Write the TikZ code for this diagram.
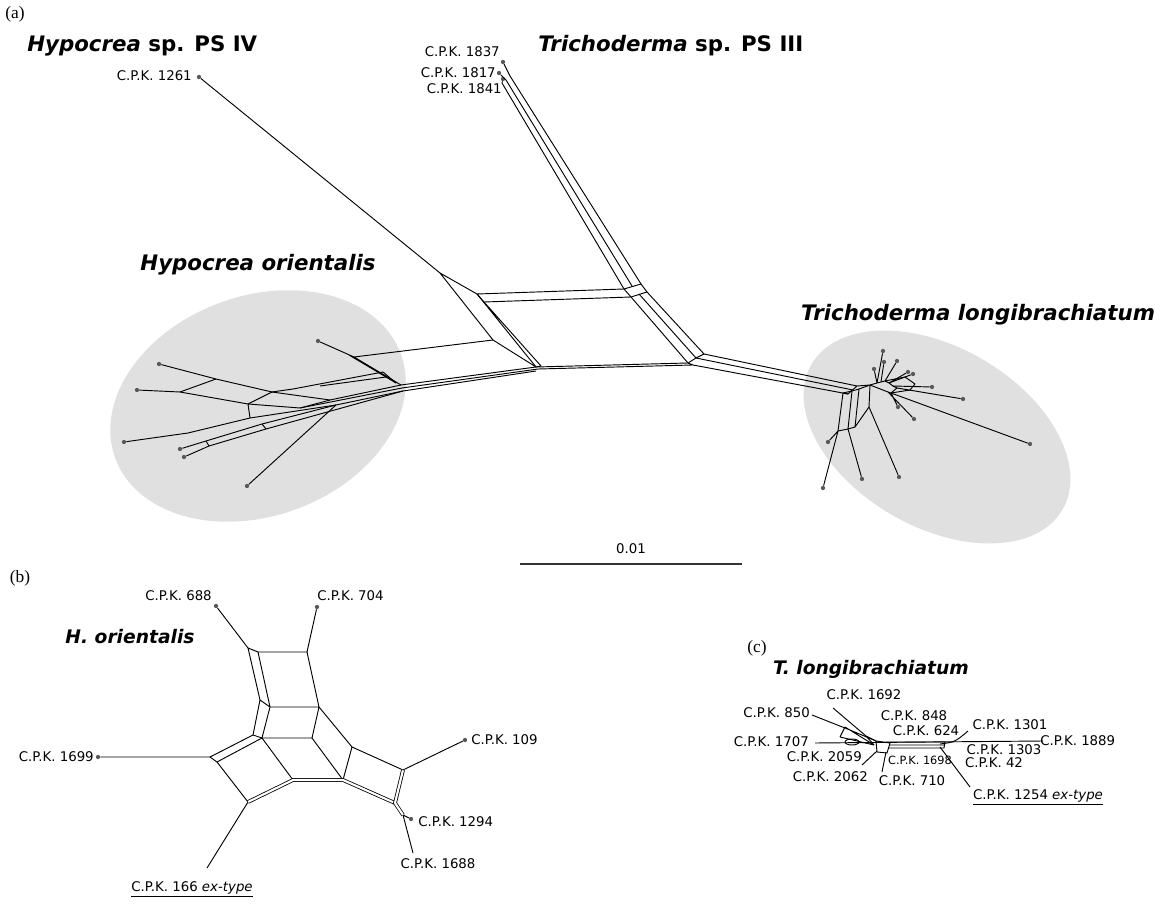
\documentclass[tikz,border=0pt]{standalone}
\usepackage{fontspec}
\setmainfont{Liberation Serif}
\newfontfamily\lab{DejaVu Sans}
\definecolor{ellgray}{RGB}{224,224,224}
\begin{document}
\begin{tikzpicture}[x=0.75pt,y=-0.75pt,
  net/.style={line width=0.7pt, line join=round},
  dbl/.style={double, double distance=1.6pt, line width=0.6pt},
  lbl/.style={font=\lab\fontsize{10}{12}\selectfont, inner sep=0pt},
  slbl/.style={font=\lab\fontsize{8.5}{10}\selectfont, inner sep=0pt},
  ttl/.style={font=\lab\bfseries\fontsize{16}{19}\selectfont, inner sep=0pt},
  sttl/.style={font=\lab\bfseries\fontsize{14}{17}\selectfont, inner sep=0pt},
  plab/.style={font=\fontsize{13}{15}\selectfont, inner sep=0pt},
  tipdot/.style={circle, fill=black!65, inner sep=0pt, minimum size=3.2pt}]
\useasboundingbox (0,0) rectangle (1167,905);
\fill[white] (0,0) rectangle (1167,905);

% ---------------- ellipses ----------------
\fill[ellgray, rotate around={20:(258,406)}] (258,406) ellipse [x radius=152, y radius=110];
\fill[ellgray, rotate around={-30:(937,437)}] (937,437) ellipse [x radius=145, y radius=90];

% ---------------- panel labels ----------------
\node[plab] (pa) at (15,14) {(a)};
\node[plab] (pb) at (20,578) {(b)};
\node[plab] (pc) at (757,648) {(c)};

% ---------------- titles ----------------
\node[ttl, anchor=west] (tiv) at (27,46) {\textit{Hypocrea} sp. PS IV};
\node[ttl, anchor=west] (tiii) at (538,46) {\textit{Trichoderma} sp. PS III};
\node[ttl] (tho) at (258,265) {\textit{Hypocrea orientalis}};
\node[ttl] (ttl2) at (978,315) {\textit{Trichoderma longibrachiatum}};
\node[sttl] (tbh) at (130,637) {\textit{H. orientalis}};
\node[sttl] (tct) at (871,669) {\textit{T. longibrachiatum}};

% ================= (a) central =================
\node[tipdot] (t1261) at (199,77) {};
\node[lbl, anchor=east] (l1261) at (192,76) {C.P.K. 1261};
\coordinate (P1) at (440,273);
\coordinate (P3) at (493,340);
\coordinate (A1) at (477,294);
\coordinate (A2) at (484,302);
\coordinate (A3) at (624,289);
\coordinate (A4) at (631,297);
\coordinate (A5) at (641,284);
\coordinate (A6) at (647,292);
\coordinate (A7) at (639,294);
\coordinate (A8) at (632,286);
\coordinate (D1) at (536,367);
\coordinate (D2) at (541,366);
\coordinate (D3) at (538,369);
\coordinate (D4) at (536,371);
\coordinate (E1) at (688,363);
\coordinate (E2) at (696,358);
\coordinate (E3) at (704,354);
\coordinate (E4) at (693,365);

\draw[net] (t1261) -- (P1);
\draw[net] (P1) -- (A1) (P1) -- (P3) -- (D1);
\draw[net] (A1) -- (A3) (A2) -- (A4) (A1) -- (A2) (A3) -- (A4) (A3) -- (A5) (A4) -- (A6) (A5) -- (A6);
\draw[net] (A1) -- (D1) (A2) -- (D2) (D1) -- (D2);
\draw[net] (D1) -- (E1) (D3) -- (E4) (E1) -- (E4);
\draw[net] (A4) -- (E1) (A6) -- (E3) (A7) -- (E2) (E1) -- (E2) -- (E3);

% PS III
\node[tipdot] (t1837) at (503,62) {};
\node[tipdot] (t1817) at (499,73) {};
\node[tipdot] (t1841) at (503,79) {};
\node[lbl, anchor=east] (l1837) at (500,52) {C.P.K. 1837};
\node[lbl, anchor=east] (l1817) at (496,73) {C.P.K. 1817};
\node[lbl, anchor=east] (l1841) at (502,89) {C.P.K. 1841};
\coordinate (S1) at (510,76);
\coordinate (S2) at (506,80);
\coordinate (S3) at (502,83);
\draw[net] (t1837) -- (S1) -- (A5);
\draw[net] (t1817) -- (S2) -- (A8);
\draw[net] (t1841) -- (S3) -- (A3);

% right band
\coordinate (R1) at (857,386);
\coordinate (R3) at (848,394);
\coordinate (R5) at (853,390);
\draw[net] (E3) -- (R1) (E4) -- (R3) (E2) -- (R5) (R1) -- (R3);

% ================= H. orientalis cluster =================
\node[tipdot] (o1) at (318,341) {};
\node[tipdot] (o2) at (159,364) {};
\node[tipdot] (o3) at (137,390) {};
\node[tipdot] (o4) at (124,442) {};
\node[tipdot] (o5) at (180,449) {};
\node[tipdot] (o6) at (184,457) {};
\node[tipdot] (o7) at (247,486) {};
\coordinate (j1) at (354,357);
\coordinate (j1b) at (349,355);
\coordinate (j2) at (401,385);
\coordinate (j2b) at (402,388);
\coordinate (j2c) at (403,391);
\coordinate (j2d) at (396,383);
\coordinate (j3) at (216,379);
\coordinate (j4) at (272,392);
\coordinate (j5) at (330,400);
\coordinate (j6) at (180,392);
\coordinate (j7) at (248,404);
\coordinate (j8) at (300,408);
\coordinate (j9) at (188,433);
\coordinate (j10) at (250,418);
\coordinate (j11) at (206,441);
\coordinate (j11b) at (209,446);
\coordinate (j12) at (262,424);
\coordinate (j12b) at (266,429);
\coordinate (j13) at (336,405);
\coordinate (j14) at (293,389);
\coordinate (j15) at (383,372);
\coordinate (j16) at (320,386);
\coordinate (j17) at (386,377);

\draw[net] (D1) -- (j2) (D3) -- (j2b) (D4) -- (j2c);
\draw[net] (o1) -- (j1) -- (j2) (j1b) -- (j2d) (j1) -- (P3);
\draw[net] (o2) -- (j3) -- (j4) -- (j5) -- (j2);
\draw[net] (o3) -- (j6) -- (j7) -- (j8) -- (j2b);
\draw[net] (j6) -- (j3) (j7) -- (j4) (j8) -- (j5) (j10) -- (j7);
\draw[net] (o4) -- (j9) -- (j10) -- (j13);
\draw[net] (o5) -- (j11) -- (j12) -- (j13);
\draw[net] (o6) -- (j11b) -- (j12b) -- (j2c);
\draw[net] (j11) -- (j11b) (j12) -- (j12b);
\draw[net] (o7) -- (j13) -- (j2c);
\draw[net] (j4) -- (j14) -- (j15) -- (j2d) (j16) -- (j17);

% ================= T. longibrachiatum cluster =================
\node[tipdot] (T1) at (883,351) {};
\node[tipdot] (T2) at (884,362) {};
\node[tipdot] (T3) at (897,361) {};
\node[tipdot] (T4) at (908,372) {};
\node[tipdot] (T5) at (913,374) {};
\node[tipdot] (T6) at (932,387) {};
\node[tipdot] (T7) at (963,399) {};
\node[tipdot] (T8) at (914,419) {};
\node[tipdot] (T9) at (898,407) {};
\node[tipdot] (T10) at (1030,444) {};
\node[tipdot] (T11) at (899,477) {};
\node[tipdot] (T12) at (862,479) {};
\node[tipdot] (T13) at (823,488) {};
\node[tipdot] (T14) at (828,442) {};
\node[tipdot] (T15) at (874,369) {};
\coordinate (u0) at (870,385);
\coordinate (u1) at (843,393);
\coordinate (u2) at (852,391);
\coordinate (u3) at (859,389);
\coordinate (v1) at (838,431);
\coordinate (v2) at (848,429);
\coordinate (v3) at (855,427);
\coordinate (v4) at (869,407);
\coordinate (w1) at (877,383);
\coordinate (w2) at (881,382);
\coordinate (w3) at (885,381);
\coordinate (w4) at (889,383);
\coordinate (w5) at (893,386);
\coordinate (w6) at (897,388);
\coordinate (w7) at (888,392);
\coordinate (w8) at (891,393);
\coordinate (x1) at (905,377);
\coordinate (x2) at (915,384);
\coordinate (x3) at (910,390);
\draw[net] (R1) -- (u0) (R3) -- (u1) -- (u2) -- (u3) -- (u0);
\draw[net] (u1) -- (v1) (u2) -- (v2) (u3) -- (v3) (u0) -- (v4) (v1) -- (v2) -- (v3) -- (v4);
\draw[net] (v1) -- (T13) (v1) -- (T14) (v2) -- (T12) (v4) -- (T11);
\draw[net] (u0) -- (w1) -- (w2) -- (w3) -- (w4) -- (w5) -- (w6);
\draw[net] (w1) -- (T1) (w1) -- (T15) (w2) -- (T2) (w3) -- (T3) (w4) -- (T4) (w4) -- (T5)
  (w5) -- (T6) (w6) -- (T7) (w7) -- (T8) (w8) -- (T9) (w8) -- (T10);
\draw[net] (u0) -- (w7) -- (w8) -- (w6);
\draw[net] (w3) -- (x1) -- (x2) -- (x3) -- (w8);

% scale bar
\coordinate (sb1) at (520,564);
\coordinate (sb2) at (742,564);
\draw[line width=1.1pt, black!80] (sb1) -- (sb2);
\node[lbl] (sbl) at (631,549) {0.01};

% ================= (b) =================
\coordinate (B1) at (248,648);
\coordinate (B2) at (258,652);
\coordinate (B3) at (307,652);
\coordinate (B4) at (260,700);
\coordinate (B5) at (270,707);
\coordinate (B6) at (319,707);
\coordinate (B7) at (253,735);
\coordinate (B8) at (262,738);
\coordinate (B9) at (312,738);
\coordinate (B10) at (352,747);
\coordinate (B11) at (403,770);
\coordinate (B12) at (210,757);
\coordinate (B13) at (217,762);
\coordinate (B14) at (248,802);
\coordinate (B15) at (293,780);
\coordinate (B16) at (343,780);
\coordinate (B17) at (395,803);
\coordinate (B18) at (403,815);
\node[tipdot] (b688) at (216,606) {};
\node[tipdot] (b704) at (317,607) {};
\node[tipdot] (b1699) at (98,757) {};
\node[tipdot] (b109) at (465,740) {};
\node[tipdot] (b1294) at (411,819) {};
\coordinate (b1688) at (413,853);
\coordinate (b166) at (207,868);
\draw[net] (b688) -- (B1) (b704) -- (B3);
\draw[net] (B1) -- (B4) -- (B7) (B2) -- (B5) -- (B8) (B1) -- (B2) (B4) -- (B5) (B7) -- (B8);
\draw[net] (B2) -- (B3) -- (B6) (B5) -- (B6) -- (B9) (B8) -- (B9);
\draw[net] (B6) -- (B10) (B9) -- (B16) (B10) -- (B16) (B10) -- (B11);
\draw[net] (B12) -- (B7) (B13) -- (B8) (B12) -- (B13) (B13) -- (B14) (B8) -- (B15);
\draw[dbl] (B14) -- (B15) -- (B16) -- (B17);
\draw[dbl] (B11) -- (B17) -- (B18);
\draw[net] (B12) -- (b1699) (B11) -- (b109) (B18) -- (b1294) (B18) -- (b1688) (B14) -- (b166);
\node[lbl, anchor=east] (lb688) at (212,596) {C.P.K. 688};
\node[lbl, anchor=west] (lb704) at (317,596) {C.P.K. 704};
\node[lbl, anchor=east] (lb1699) at (94,757) {C.P.K. 1699};
\node[lbl, anchor=west] (lb109) at (471,740) {C.P.K. 109};
\node[lbl, anchor=west] (lb1294) at (418,822) {C.P.K. 1294};
\node[lbl] (lb1688) at (438,864) {C.P.K. 1688};
\node[lbl] (lb166) at (192,889) {\underline{C.P.K. 166 \textit{ex-type}}};

% ================= (c) =================
\coordinate (c1707) at (815,743);
\coordinate (c1889) at (1043,741);
\draw[net] (c1707) -- (c1889);
\coordinate (K1) at (876,741);
\coordinate (K2) at (890,743);
\coordinate (K3) at (887,753);
\coordinate (K4) at (877,752);
\draw[net] (K1) -- (K2) -- (K3) -- (K4) -- cycle;
\coordinate (Kb1) at (886,742);
\coordinate (Kb2) at (889,745);
\coordinate (Kb3) at (888,748);
\coordinate (Q1) at (945,742);
\coordinate (Q2) at (945,745);
\coordinate (Q3) at (944,748);
\draw[net] (Kb1) -- (Q1) (Kb2) -- (Q2) (Kb3) -- (Q3) (Q1) -- (Q3);
\coordinate (c850) at (812,715);
\coordinate (N1) at (850,730);
\coordinate (N3) at (845,727);
\coordinate (N4) at (874,745);
\coordinate (N5) at (840,737);
\coordinate (c1692) at (833,708);
\coordinate (N6) at (866,736);
\draw[net] (c850) -- (N1) -- (K1) (N3) -- (N4) (N5) -- (N4) (N5) -- (N3);
\draw[net] (c1692) -- (N6) -- (K1) (N6) -- (N4);
\draw[net] (852,742) ellipse [x radius=7, y radius=3];
\coordinate (c1301a) at (940,744);
\coordinate (c1301b) at (968,731);
\draw[net] (c1301a) .. controls (955,742) .. (c1301b);
\coordinate (c1254a) at (940,747);
\coordinate (c1254b) at (970,787);
\draw[net] (c1254a) -- (c1254b);
\coordinate (c2059a) at (877,751);
\coordinate (c2059b) at (862,765);
\draw[net] (c2059a) -- (c2059b);
\coordinate (c710a) at (886,752);
\coordinate (c710b) at (882,772);
\draw[net] (c710a) -- (c710b);

\node[lbl] (lc1692) at (864,695) {C.P.K. 1692};
\node[lbl, anchor=east] (lc850) at (810,713) {C.P.K. 850};
\node[lbl] (lc848) at (914,716) {C.P.K. 848};
\node[lbl] (lc624) at (926,731) {C.P.K. 624};
\node[lbl] (lc1301) at (1010,725) {C.P.K. 1301};
\node[lbl, anchor=east] (lc1707) at (809,742) {C.P.K. 1707};
\node[lbl, anchor=west] (lc1889) at (1040,741) {C.P.K. 1889};
\node[lbl] (lc1303) at (1004,750) {C.P.K. 1303};
\node[lbl] (lc42) at (994,763) {C.P.K. 42};
\node[slbl] (lc1698) at (920,760) {C.P.K. 1698};
\node[lbl, anchor=east] (lc2059) at (862,757) {C.P.K. 2059};
\node[lbl, anchor=east] (lc2062) at (868,777) {C.P.K. 2062};
\node[lbl] (lc710) at (912,781) {C.P.K. 710};
\node[lbl] (lc1254) at (1038,797) {\underline{C.P.K. 1254 \textit{ex-type}}};
\end{tikzpicture}
\end{document}
